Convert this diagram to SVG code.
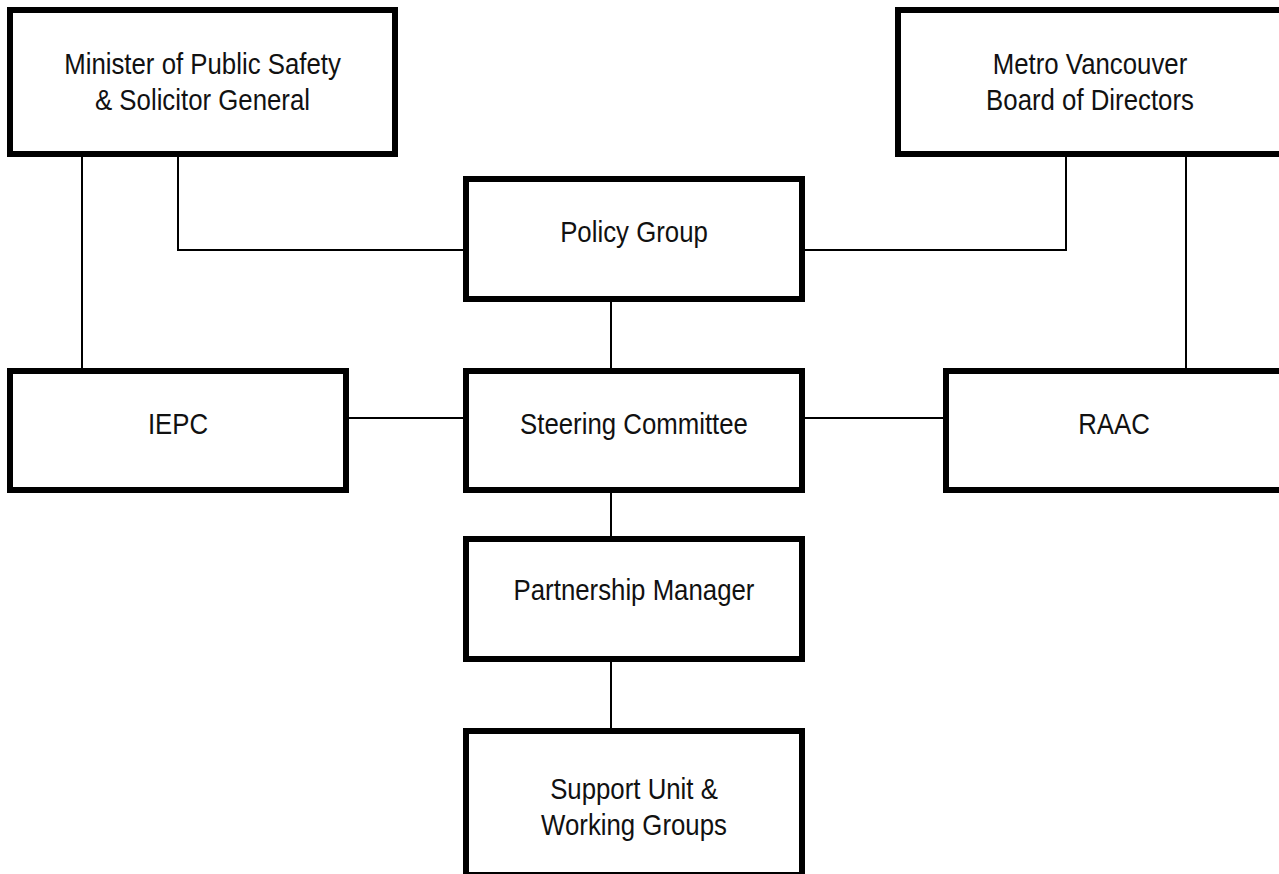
<svg xmlns="http://www.w3.org/2000/svg" width="1279" height="874" viewBox="0 0 1279 874">
  <style>
    .box { fill: #ffffff; stroke: #000000; stroke-width: 6; }
    .lbl { font-family: "Liberation Sans", Arial, sans-serif; font-size: 30px; fill: #111111; text-anchor: middle; }
    .conn { fill: none; stroke: #000000; stroke-width: 2; }
  </style>
  <rect x="0" y="0" width="1279" height="874" fill="#ffffff"/>
  <g id="connectors">
    <polyline class="conn" points="178,157 178,250 463,250"/>
    <line class="conn" x1="82" y1="157" x2="82" y2="368"/>
    <polyline class="conn" points="1066,157 1066,250 805,250"/>
    <line class="conn" x1="1186" y1="157" x2="1186" y2="368"/>
    <line class="conn" x1="611" y1="302" x2="611" y2="368"/>
    <line class="conn" x1="349" y1="418" x2="463" y2="418"/>
    <line class="conn" x1="805" y1="418" x2="943" y2="418"/>
    <line class="conn" x1="611" y1="493" x2="611" y2="536"/>
    <line class="conn" x1="611" y1="662" x2="611" y2="728"/>
  </g>
  <g id="minister">
    <rect class="box" x="10" y="10" width="385" height="144"/>
    <text class="lbl" transform="translate(202.5,74) scale(0.86,1)"><tspan x="0" y="0">Minister of Public Safety</tspan><tspan x="0" y="36">&amp; Solicitor General</tspan></text>
  </g>
  <g id="metro">
    <rect class="box" x="898" y="10" width="384" height="144"/>
    <text class="lbl" transform="translate(1090,74) scale(0.86,1)"><tspan x="0" y="0">Metro Vancouver</tspan><tspan x="0" y="36">Board of Directors</tspan></text>
  </g>
  <g id="policy">
    <rect class="box" x="466" y="179" width="336" height="120"/>
    <text class="lbl" transform="translate(634,242) scale(0.86,1)" x="0" y="0">Policy Group</text>
  </g>
  <g id="iepc">
    <rect class="box" x="10" y="371" width="336" height="119"/>
    <text class="lbl" transform="translate(178,434) scale(0.86,1)" x="0" y="0">IEPC</text>
  </g>
  <g id="steering">
    <rect class="box" x="466" y="371" width="336" height="119"/>
    <text class="lbl" transform="translate(634,434) scale(0.86,1)" x="0" y="0">Steering Committee</text>
  </g>
  <g id="raac">
    <rect class="box" x="946" y="371" width="336" height="119"/>
    <text class="lbl" transform="translate(1114,434) scale(0.86,1)" x="0" y="0">RAAC</text>
  </g>
  <g id="partnership">
    <rect class="box" x="466" y="539" width="336" height="120"/>
    <text class="lbl" transform="translate(634,600) scale(0.86,1)" x="0" y="0">Partnership Manager</text>
  </g>
  <g id="support">
    <rect class="box" x="466" y="731" width="336" height="144"/>
    <text class="lbl" transform="translate(634,799) scale(0.86,1)"><tspan x="0" y="0">Support Unit &amp;</tspan><tspan x="0" y="36">Working Groups</tspan></text>
  </g>
</svg>
